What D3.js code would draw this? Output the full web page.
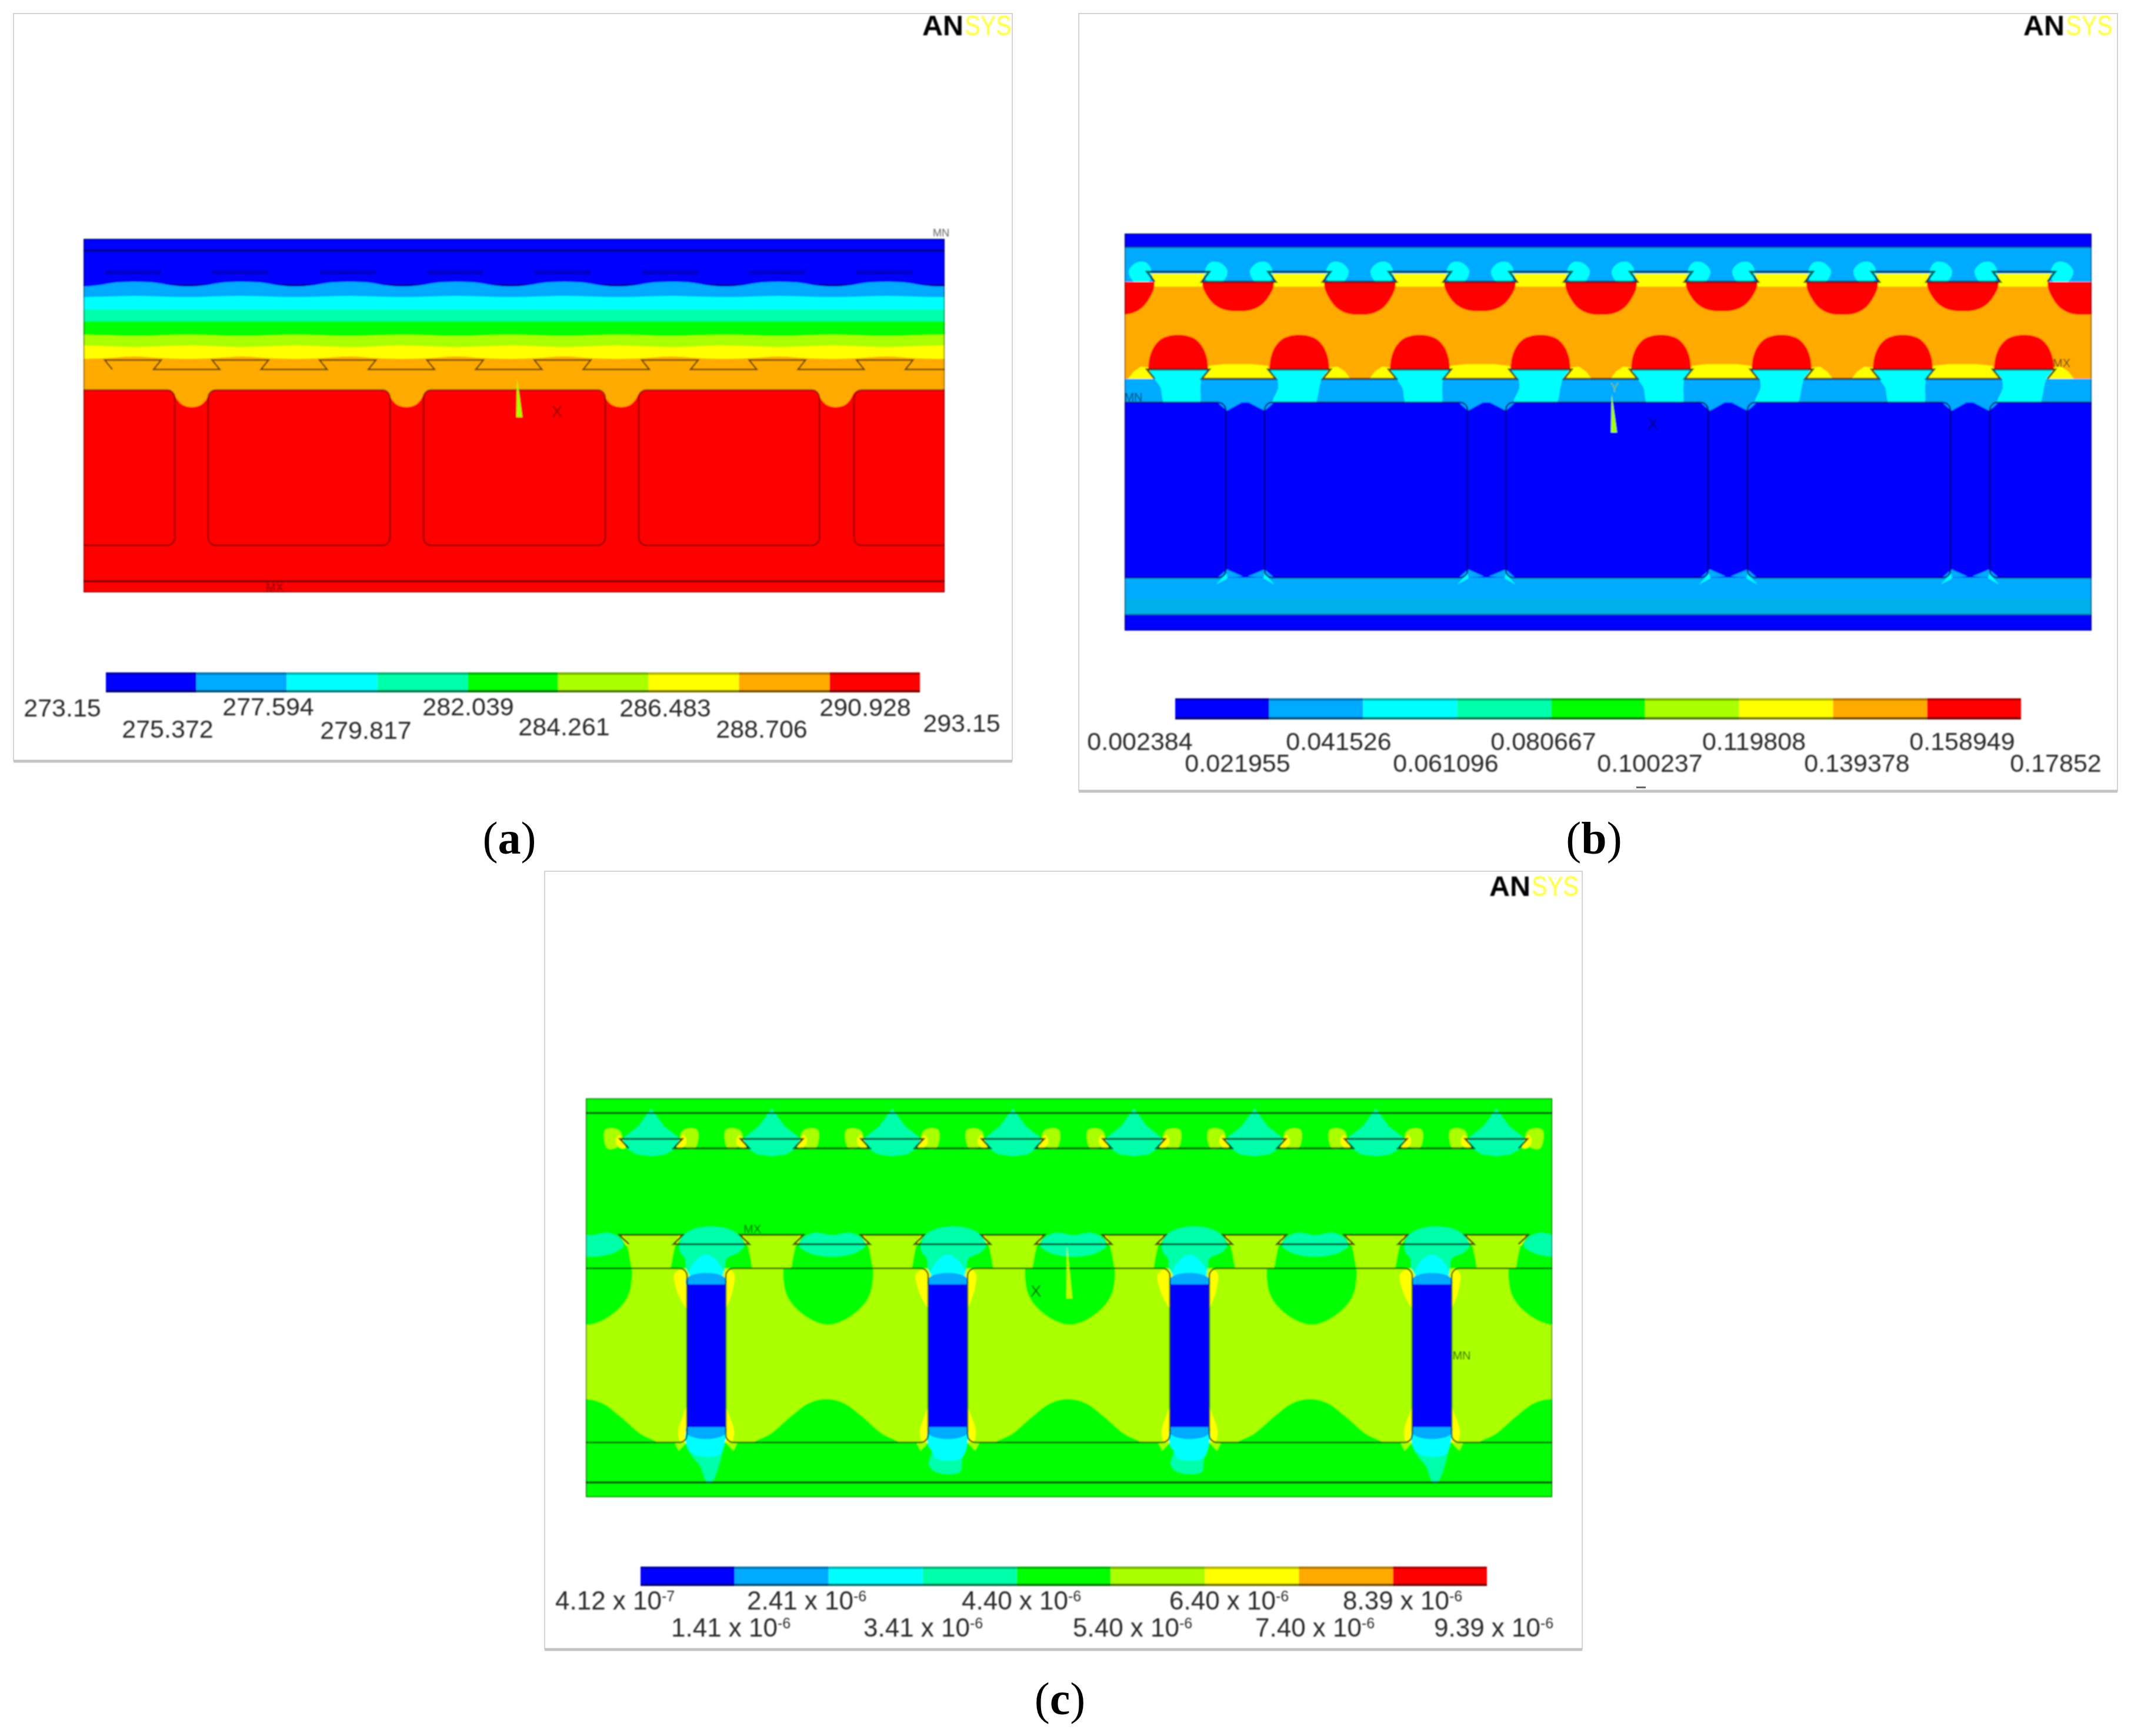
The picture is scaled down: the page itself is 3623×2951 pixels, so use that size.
<!DOCTYPE html>
<html>
<head>
<meta charset="utf-8">
<style>
  html, body { margin: 0; padding: 0; background: #fff; }
  text { font-family: "Liberation Sans", Arial, sans-serif; }
</style>
<script src="https://cdn.jsdelivr.net/npm/d3@7"></script>
</head>
<body>
<svg id="chart"></svg>
<script>
// contour colours, low to high
const bandColors = ['#0000ff', '#00aaff', '#00ffff', '#00ffaa', '#00ff00', '#aaff00', '#ffff00', '#ffaa00', '#ff0000']
const lineDark = '#000'

// legend labels
const legendA = ['273.15', '275.372', '277.594', '279.817', '282.039', '284.261', '286.483', '288.706', '290.928', '293.15']
const legendB = ['0.002384', '0.021955', '0.041526', '0.061096', '0.080667', '0.100237', '0.119808', '0.139378', '0.158949', '0.17852']
const legendCMantissa = ['4.12', '1.41', '2.41', '3.41', '4.40', '5.40', '6.40', '7.40', '8.39', '9.39']
const legendCExponent = ['-7', '-6', '-6', '-6', '-6', '-6', '-6', '-6', '-6', '-6']
const captions = ['(a)', '(b)', '(c)']

// panel (a), temperature field. Model units, origin at top left of the section
const aWaveProfiles = [
  [[0, 73], [30, 74], [62, 79], [91, 81], [120, 79], [152, 74]],
  [[0, 97], [91, 99]],
  [[0, 120], [91, 120]],
  [[0, 140], [91, 140]],
  [[0, 165], [91, 163]],
  [[0, 184], [91, 181]],
  [[0, 200], [50, 203], [91, 204], [130, 203]]
]
const aTroughProfile = [[-41, 257], [-32, 261], [-24, 274], [-14, 283], [0, 286], [14, 283], [24, 274], [32, 261], [41, 257]]
const aRects = [[-30, 155], [212, 521], [578, 887], [944, 1251], [1310, 1500]]
const aLayers = [20, 582]
const aHiddenLayer = [57, 79]

// panel (b), displacement field
const bBowlCentres = [-10, 193, 400, 604, 810, 1015, 1220, 1425, 1630]
const bBowlDepths = [138, 132, 138, 132, 138, 132, 138, 132, 138]
const bDomeCentres = [91, 297, 502, 707, 912, 1117, 1323, 1529]
const bBowlShape = [[-61, 82], [-60, 92], [-52, 108], [-40, 122], [-22, 131], [0, 133], [22, 131], [40, 122], [52, 108], [60, 92], [61, 82]]
const bDomeShape = [[-51, 231], [-49, 212], [-41, 192], [-27, 178], [0, 172], [27, 178], [41, 192], [49, 212], [51, 231]]
const bRects = [[-30, 172], [238, 583], [648, 992], [1059, 1404], [1471, 1680]]
const bChannelCentres = [205, 615, 1026, 1437]
const bSideBlob = [[-16, 82], [-20, 62], [-11, 49], [6, 50], [18, 64], [9, 82]]
const bFunnelWide = [[-48, 231], [52, 231], [40, 247], [38, 262], [35, 290], [-22, 290], [-30, 262], [-40, 247]]
const bFunnelLeft = [[-52, 231], [48, 231], [38, 247], [34, 262], [25, 290], [-45, 290], [-36, 262], [-38, 247]]
const bYellowFull = [[-50, 225], [-25, 222], [25, 222], [50, 225], [64, 247], [-64, 247]]
const bYellowSplit = [[-64, 247], [-52, 228], [-38, 226], [-25, 235], [-16, 247]]
const bYellowTop = [[-46, 68], [46, 68], [40, 82], [47, 90], [-47, 90], [-40, 82]]

// panel (c), strain field
const cDiamondCentres = [111, 316, 521, 726, 932, 1137, 1343, 1548]
const cChannelEdges = [[171, 238], [582, 649], [993, 1060], [1405, 1472]]
const cEggCentres = [2, 412, 823, 1234, 1645]
const cHumpCentres = [-2, 409, 820, 1231, 1642]
const cBigCapCentres = [213, 624, 1034, 1446]
const cSmallCapCentres = [8, 419, 829, 1240, 1651]
const cRects = [[-30, 172], [238, 582], [649, 993], [1060, 1405], [1472, 1680]]
const cDiamond = [[0, 18], [-22, 48], [-49, 69], [-41, 85], [-24, 95], [0, 98], [24, 95], [41, 85], [49, 69], [22, 48]]
const cSideBlob = [[-14, 68], [-12, 54], [0, 51], [13, 56], [16, 70], [6, 84], [-8, 85]]
const cYellowSide = [[-2, 62], [4, 70], [2, 80], [-6, 85], [-12, 84]]
const cEgg = [[-72, 280], [-75, 318], [-68, 340], [-52, 360], [-26, 378], [0, 385], [26, 378], [52, 360], [68, 340], [75, 318], [72, 280], [0, 268]]
const cHump = [[-122, 585], [-95, 570], [-60, 540], [-30, 518], [0, 511], [30, 518], [60, 540], [95, 570], [122, 585]]
const cBigCap = [[-54, 250], [-48, 234], [-28, 222], [0, 218], [28, 222], [48, 234], [56, 250], [46, 262], [26, 272], [20, 296], [-40, 296], [-44, 272], [-52, 262]]
const cSmallCap = [[-56, 250], [-50, 238], [-30, 229], [0, 233], [30, 229], [50, 238], [56, 250], [40, 262], [15, 268], [-15, 268], [-40, 262]]
const cFunnel = [[-54, 232], [54, 232], [41, 248], [37, 266], [33, 289], [-33, 289], [-37, 266], [-41, 248]]
const cTopCyan = [[-29, 300], [-18, 276], [0, 266], [18, 276], [29, 300]]
const cTopDome = [[-33, 318], [-33, 306], [-15, 298], [15, 298], [33, 306], [33, 318]]
const cLowDome = [[-33, 558], [33, 558], [33, 570], [15, 578], [-15, 578], [-33, 570]]
const cTaperNarrow = [[-33, 566], [33, 566], [32, 582], [27, 602], [21, 625], [9, 653], [2, 653], [-10, 625], [-22, 610], [-33, 590]]
const cTaperWide = [[-33, 566], [33, 566], [32, 590], [24, 610], [20, 635], [-20, 635], [-32, 622], [-27, 600], [-33, 590]]
const cCyanNarrow = [[-33, 566], [33, 566], [30, 590], [22, 606], [-18, 606], [-33, 590]]
const cCyanWide = [[-33, 566], [33, 566], [32, 590], [22, 612], [-20, 612], [-27, 598], [-33, 590]]
const cTaperKind = [0, 1, 1, 0]
const cSliverTop = [[-21, 300], [-17, 325], [-8, 345], [0, 356], [0, 292], [-12, 292]]
const cSliverLow = [[0, 525], [-6, 540], [-14, 565], [-10, 584], [0, 584]]
const cSliverFoot = [[-20, 585], [0, 585], [-13, 599]]

// page layout
const W = 3623, H = 2951
const frames = [[23, 23, 1721, 1294], [1834, 23, 3600, 1345], [926, 1481, 2690, 2804]]
const legendBars = [[180, 1564, 1143, 1177], [1998, 3436, 1187, 1223], [1089, 2528, 2663, 2696]]
const aLabelX = [106, 285, 456, 622, 796, 959, 1131, 1295, 1471, 1635]
const aLabelY = [1218, 1254, 1216, 1256, 1216, 1250, 1218, 1254, 1217, 1244]
const bLabelX = [1938, 2104, 2276, 2458, 2624, 2805, 2982, 3157, 3336, 3495]
const bLabelY = [1275, 1312]
const cLabelX = [944, 1141, 1270, 1468, 1635, 1824, 1988, 2134, 2283, 2438]
const cLabelY = [2736, 2782]
const logos = [[1568, 60], [3440, 60], [2532, 1523]]
const captionX = [866, 2710, 1802]
const captionY = [1451, 1451, 2914]

const svg = d3.select('#chart').attr('width', W).attr('height', H)
  .attr('viewBox', [0, 0, W, H]).style('display', 'block')
svg.append('rect').attr('width', W).attr('height', H).attr('fill', '#fff')

const defs = svg.append('defs')
defs.append('filter').attr('id', 'soft')
  .attr('filterUnits', 'userSpaceOnUse')
  .attr('x', 0).attr('y', 0).attr('width', W).attr('height', H)
  .append('feGaussianBlur').attr('stdDeviation', 1.1)

// frames stay crisp, everything inside came from a shrunk screenshot
svg.append('g').selectAll('path').data(frames).join('path')
  .attr('d', d => `M${d[0]},${d[3]}V${d[1]}H${d[2]}V${d[3]}`)
  .attr('fill', 'none').attr('stroke', '#d4d4d4').attr('stroke-width', 2)
svg.append('g').selectAll('line').data(frames).join('line')
  .attr('x1', d => d[0]).attr('x2', d => d[2])
  .attr('y1', d => d[3]).attr('y2', d => d[3])
  .attr('stroke', '#c4c4c4').attr('stroke-width', 5)

const root = svg.append('g').attr('filter', 'url(#soft)')

function makePanel(id, left, top, width, height) {
  const clip = defs.append('clipPath').attr('id', id)
  clip.append('rect').attr('x', left).attr('y', top).attr('width', width).attr('height', height)
  const outer = root.append('g')
  return {
    width, height, outer,
    g: outer.append('g').attr('clip-path', `url(#${id})`),
    x: d3.scaleLinear().domain([0, width]).range([left, left + width]),
    y: d3.scaleLinear().domain([0, height]).range([top, top + height])
  }
}

const shift = (pts, cx) => pts.map(d => [d[0] + cx, d[1]])
const mirror = pts => pts.map(d => [-d[0], d[1]])

// repeat a periodic boundary along the section
function repeatProfile(profile, start, period, width) {
  let out = []
  for (let c = start - period; c < width + period; c += period) out = out.concat(shift(profile, c))
  return out
}

function band(p, boundary, color) {
  const area = d3.area().x(d => p.x(d[0])).y0(d => p.y(d[1])).y1(p.y(p.height)).curve(d3.curveMonotoneX)
  p.g.append('path').attr('d', area(boundary)).attr('fill', color)
}

function block(p, y0, y1, color) {
  p.g.append('rect')
    .attr('x', p.x(0)).attr('width', p.x(p.width) - p.x(0))
    .attr('y', p.y(y0)).attr('height', p.y(y1) - p.y(y0))
    .attr('fill', color)
}

function shape(p, pts, color, smooth) {
  const line = d3.line().x(d => p.x(d[0])).y(d => p.y(d[1]))
    .curve(smooth ? d3.curveCatmullRomClosed : d3.curveLinearClosed)
  p.g.append('path').attr('d', line(pts)).attr('fill', color)
}

// curved outline with a straight closing edge, for shapes sitting on an interface
function flatShape(p, pts, color) {
  const line = d3.line().x(d => p.x(d[0])).y(d => p.y(d[1])).curve(d3.curveCatmullRom)
  p.g.append('path').attr('d', line(pts) + 'Z').attr('fill', color)
}

function hline(p, y, opacity, width, color) {
  p.g.append('line')
    .attr('x1', p.x(0)).attr('x2', p.x(p.width))
    .attr('y1', p.y(y)).attr('y2', p.y(y))
    .attr('stroke', color || lineDark).attr('stroke-opacity', opacity).attr('stroke-width', width)
}

function dovetail(p, centres, halfTop, halfBottom, yTop, yBottom, opacity, width) {
  const pts = []
  centres.forEach(c => {
    pts.push([c - halfBottom, yBottom], [c - halfTop, yTop], [c + halfTop, yTop], [c + halfBottom, yBottom])
  })
  const line = d3.line().x(d => p.x(d[0])).y(d => p.y(d[1]))
  p.g.append('path').attr('d', line(pts)).attr('fill', 'none')
    .attr('stroke', lineDark).attr('stroke-opacity', opacity).attr('stroke-width', width)
}

function cells(p, rects, top, bottom, stroke, opacity, width) {
  p.g.append('g').selectAll('rect').data(rects).join('rect')
    .attr('x', d => p.x(d[0])).attr('width', d => p.x(d[1]) - p.x(d[0]))
    .attr('y', p.y(top)).attr('height', p.y(bottom) - p.y(top))
    .attr('rx', 13).attr('fill', 'none')
    .attr('stroke', stroke).attr('stroke-opacity', opacity).attr('stroke-width', width)
}

function triad(p, tipX, tipY, baseY, color, opacity) {
  const line = d3.line().x(d => p.x(d[0])).y(d => p.y(d[1])).curve(d3.curveLinearClosed)
  p.g.append('path').attr('d', line([[tipX, tipY], [tipX + 9, baseY], [tipX - 1, baseY]]))
    .attr('fill', color).attr('fill-opacity', opacity || 1)
}

function note(p, text, x, y, size, color, opacity) {
  p.outer.append('text').attr('x', p.x(x)).attr('y', p.y(y))
    .attr('text-anchor', 'middle').attr('dominant-baseline', 'middle')
    .attr('font-size', size).attr('fill', color || '#222').attr('fill-opacity', opacity || 0.7)
    .text(text)
}

function border(p) {
  p.g.append('rect')
    .attr('x', p.x(0)).attr('y', p.y(0))
    .attr('width', p.x(p.width) - p.x(0)).attr('height', p.y(p.height) - p.y(0))
    .attr('fill', 'none').attr('stroke', lineDark).attr('stroke-opacity', 0.55).attr('stroke-width', 3)
}

function drawA() {
  const p = makePanel('clip-a', 142, 406, 1464, 601)
  const dovetails = d3.range(84, 1560, 182.6)
  block(p, 0, p.height, bandColors[0])

  // layers that show faintly through the blue, under the contour bands
  p.g.append('g').selectAll('line').data(dovetails).join('line')
    .attr('x1', d => p.x(d - 48)).attr('x2', d => p.x(d + 48))
    .attr('y1', p.y(aHiddenLayer[0])).attr('y2', p.y(aHiddenLayer[0]))
    .attr('stroke', '#0000cc').attr('stroke-width', 7)
  p.g.append('g').selectAll('line').data(dovetails).join('line')
    .attr('x1', d => p.x(d + 35)).attr('x2', d => p.x(d + 147))
    .attr('y1', p.y(aHiddenLayer[1])).attr('y2', p.y(aHiddenLayer[1]))
    .attr('stroke', '#0000b0').attr('stroke-width', 5)

  aWaveProfiles.forEach((profile, i) => {
    band(p, repeatProfile(profile, 87, 182.6, p.width), bandColors[i + 1])
  })
  band(p, repeatProfile(aTroughProfile, 184, 365, p.width), bandColors[8])

  aLayers.forEach(y => hline(p, y, 0.6, 3))
  dovetail(p, dovetails, 48, 35, 206, 222, 0.6, 2.5)
  cells(p, aRects, 257, 521, '#700000', 0.75, 2.5)
  triad(p, 737, 237, 303, bandColors[5])
  border(p)
  note(p, 'X', 805, 296, 28, '#600')
  note(p, 'MX', 325, 594, 20, '#400')
  note(p, 'MN', 1458, -9, 18)
}

function drawB() {
  const p = makePanel('clip-b', 1912, 397, 1644, 675)
  block(p, 0, p.height, bandColors[1])
  block(p, 620, 648, '#00aeea')
  block(p, 0, 23, bandColors[0])
  block(p, 648, p.height, bandColors[0])

  // upper interface
  bDomeCentres.forEach(c => {
    shape(p, shift(bSideBlob, c + 66), bandColors[2], true)
    shape(p, shift(mirror(bSideBlob), c - 66), bandColors[2], true)
  })
  block(p, 82, 247, bandColors[7])
  bDomeCentres.forEach(c => shape(p, shift(bYellowTop, c), bandColors[6], false))
  bBowlCentres.forEach((c, i) => {
    const stretch = (bBowlDepths[i] - 82) / 51
    flatShape(p, shift(bBowlShape.map(d => [d[0], 82 + (d[1] - 82) * stretch]), c), bandColors[8])
  })

  // lower interface
  bBowlCentres.forEach((c, i) => {
    if (i % 2 === 1) {
      shape(p, shift(bYellowFull, c), bandColors[6], false)
    } else {
      shape(p, shift(bYellowSplit, c), bandColors[6], false)
      shape(p, shift(mirror(bYellowSplit), c), bandColors[6], false)
    }
  })
  bDomeCentres.forEach((c, i) => {
    shape(p, shift(i % 2 === 0 ? bFunnelWide : bFunnelLeft, c), bandColors[2], true)
  })
  bDomeCentres.forEach(c => flatShape(p, shift(bDomeShape, c), bandColors[8]))

  // cooling channels, one dark blue block with the notches cut back in
  block(p, 287, 585, bandColors[0])
  bChannelCentres.forEach(c => {
    shape(p, shift([[-48, 286], [-31, 301], [-4, 286]], c), bandColors[1], false)
    shape(p, shift([[4, 286], [33, 301], [50, 286]], c), bandColors[1], false)
    shape(p, shift([[-48, 586], [-31, 571], [-4, 583]], c), bandColors[1], false)
    shape(p, shift([[4, 583], [33, 571], [50, 586]], c), bandColors[1], false)
    shape(p, shift([[-50, 597], [-32, 578], [-30, 586]], c), bandColors[2], false)
    shape(p, shift([[50, 597], [33, 578], [31, 586]], c), bandColors[2], false)
  })
  cells(p, bRects, 287, 585, '#000060', 0.8, 2.5)

  hline(p, 23, 0.4, 3)
  hline(p, 648, 0.25, 3)
  dovetail(p, bDomeCentres, 53, 40, 65, 82, 0.65, 3.5)
  dovetail(p, bDomeCentres, 53, 40, 231, 247, 0.65, 3.5)
  triad(p, 828, 273, 338, bandColors[5])
  border(p)
  note(p, 'MN', 15, 280, 20, '#013', 0.7)
  note(p, 'MX', 1593, 222, 20, '#222', 0.7)
  note(p, 'Y', 833, 263, 22, '#ac0', 0.7)
  note(p, 'X', 898, 326, 28, '#005', 0.7)
}

function drawC() {
  const p = makePanel('clip-c', 996, 1867, 1643, 678)
  block(p, 0, p.height, bandColors[4])

  // rib and casing, lime with green lobes
  block(p, 289, 585, bandColors[5])
  cEggCentres.forEach(c => shape(p, shift(cEgg, c), bandColors[4], true))
  cHumpCentres.forEach(c => shape(p, shift(cHump, c), bandColors[4], true))
  block(p, 585, p.height, bandColors[4])

  // upper dovetail row
  cDiamondCentres.forEach(c => {
    shape(p, shift(cSideBlob, c - 66), bandColors[5], true)
    shape(p, shift(mirror(cSideBlob), c + 66), bandColors[5], true)
    shape(p, shift(mirror(cYellowSide), c - 56), bandColors[6], true)
    shape(p, shift(cYellowSide, c + 56), bandColors[6], true)
    shape(p, shift(cDiamond, c), bandColors[3], false)
  })

  // lower dovetail row
  cSmallCapCentres.forEach(c => shape(p, shift(cSmallCap, c), bandColors[3], true))
  cBigCapCentres.forEach(c => shape(p, shift(cBigCap, c), bandColors[3], true))
  cDiamondCentres.forEach(c => {
    shape(p, shift(cFunnel, c), bandColors[5], false)
    shape(p, shift([[-54, 232], [-42, 250], [-38, 250], [-48, 232]], c), bandColors[6], false)
    shape(p, shift([[54, 232], [42, 250], [38, 250], [48, 232]], c), bandColors[6], false)
  })

  // channels
  cChannelEdges.forEach((e, i) => {
    const mid = (e[0] + e[1]) / 2
    shape(p, shift(cSliverTop, e[0]), bandColors[6], true)
    shape(p, shift(mirror(cSliverTop).map(d => [d[0] * 0.7, d[1]]), e[1]), bandColors[6], true)
    shape(p, shift(cSliverLow, e[0]), bandColors[6], true)
    shape(p, shift(mirror(cSliverLow), e[1]), bandColors[6], true)
    shape(p, shift(cSliverFoot, e[0]), bandColors[5], false)
    shape(p, shift(mirror(cSliverFoot), e[1]), bandColors[5], false)
    shape(p, shift(cTopCyan, mid), bandColors[2], true)
    shape(p, shift(cTopDome, mid), bandColors[1], true)
    shape(p, shift(cTaperKind[i] ? cTaperWide : cTaperNarrow, mid), bandColors[3], true)
    shape(p, shift(cTaperKind[i] ? cCyanWide : cCyanNarrow, mid), bandColors[2], true)
    shape(p, shift(cLowDome, mid), bandColors[1], true)
    p.g.append('rect').attr('x', p.x(e[0])).attr('width', p.x(e[1]) - p.x(e[0]))
      .attr('y', p.y(316)).attr('height', p.y(559) - p.y(316)).attr('fill', bandColors[0])
  })

  hline(p, 25, 0.7, 3)
  hline(p, 653, 0.6, 4)
  dovetail(p, cDiamondCentres, 53, 38, 69, 85, 0.7, 3)
  dovetail(p, cDiamondCentres, 54, 38, 232, 248, 0.7, 3)
  cells(p, cRects, 289, 585, '#003000', 0.8, 2.5)
  triad(p, 818, 250, 340, bandColors[6], 0.75)
  border(p)
  note(p, 'MX', 283, 224, 20, '#040', 0.8)
  note(p, 'MN', 1489, 439, 20, '#040', 0.8)
  note(p, 'X', 765, 330, 28, '#040', 0.8)
}

function drawLegends() {
  legendBars.forEach((b, i) => {
    const x = d3.scaleBand().domain(d3.range(bandColors.length)).range([b[0], b[1]])
    const g = root.append('g')
    g.selectAll('rect').data(bandColors).join('rect')
      .attr('x', (d, j) => x(j)).attr('width', x.bandwidth())
      .attr('y', b[2]).attr('height', b[3] - b[2]).attr('fill', d => d)
    g.append('rect').attr('x', b[0]).attr('width', b[1] - b[0]).attr('y', b[2]).attr('height', 4)
      .attr('fill', '#000').attr('fill-opacity', 0.3)
    g.append('rect').attr('x', b[0]).attr('width', b[1] - b[0]).attr('y', b[3] - 4).attr('height', 4)
      .attr('fill', '#000').attr('fill-opacity', 0.55)
  })

  const labels = root.append('g').attr('font-size', 43).attr('fill', '#2a2a2a')
  labels.selectAll('text.a').data(legendA).join('text').attr('class', 'a')
    .attr('x', (d, i) => aLabelX[i]).attr('y', (d, i) => aLabelY[i])
    .attr('text-anchor', 'middle').text(d => d)
  labels.selectAll('text.b').data(legendB).join('text').attr('class', 'b')
    .attr('x', (d, i) => bLabelX[i]).attr('y', (d, i) => bLabelY[i % 2])
    .attr('text-anchor', 'middle').text(d => d)
  const c = labels.selectAll('text.c').data(legendCMantissa).join('text').attr('class', 'c')
    .attr('x', (d, i) => cLabelX[i]).attr('y', (d, i) => cLabelY[i % 2])
    .attr('font-size', 44)
    .text(d => `${d} x 10`)
  c.append('tspan').attr('dy', -14).attr('font-size', 25).text((d, i) => legendCExponent[i])
}

function drawLogos() {
  logos.forEach(l => {
    const g = root.append('g').attr('transform', `translate(${l[0]},${l[1]})`)
    g.append('text').attr('font-size', 49).attr('font-weight', 'bold').attr('fill', '#000')
      .attr('textLength', 70).attr('lengthAdjust', 'spacingAndGlyphs').text('AN')
    g.append('text').attr('x', 72).attr('font-size', 49).attr('fill', '#ffff33')
      .attr('textLength', 80).attr('lengthAdjust', 'spacingAndGlyphs').text('SYS')
  })
}

function drawCaptions() {
  const g = svg.append('g').attr('font-size', 78).attr('fill', '#000')
  captions.forEach((c, i) => {
    const t = g.append('text').attr('x', captionX[i]).attr('y', captionY[i]).attr('text-anchor', 'middle')
      .style('font-family', '"Liberation Serif", serif')
    t.append('tspan').text('(')
    t.append('tspan').attr('font-weight', 'bold').text(c[1])
    t.append('tspan').text(')')
  })
}

drawA()
drawB()
drawC()
drawLegends()
drawLogos()
drawCaptions()

// stray mark on the lower frame of (b)
svg.append('rect').attr('x', 2782).attr('y', 1337).attr('width', 16).attr('height', 3).attr('fill', '#666')
</script>
</body>
</html>
